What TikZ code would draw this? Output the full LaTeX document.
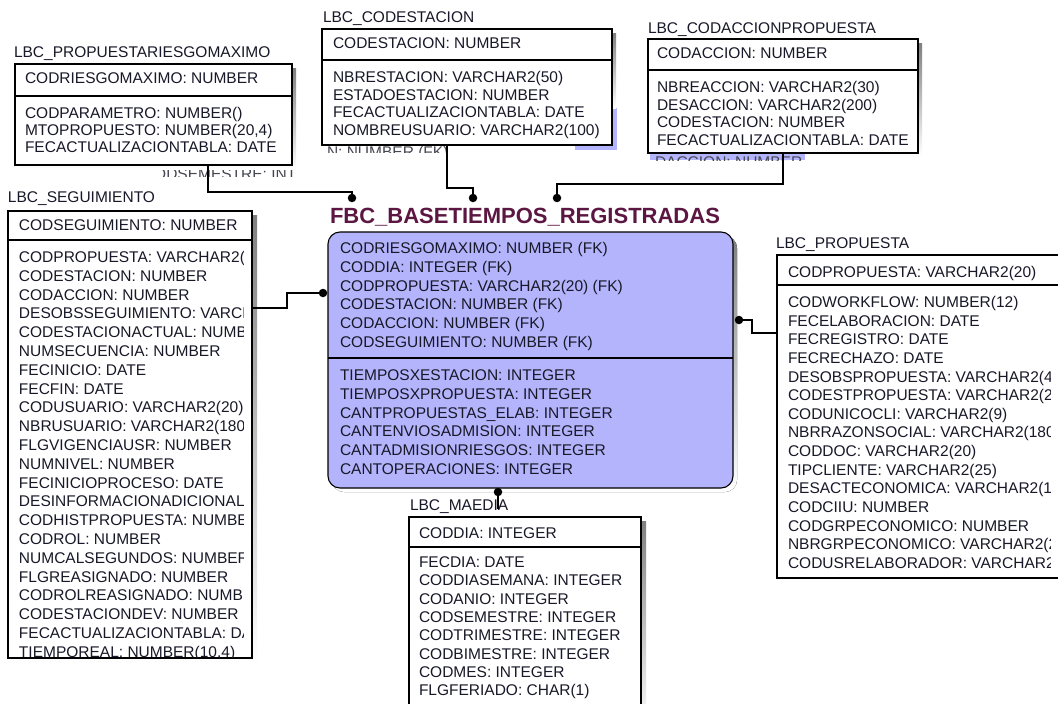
\documentclass[tikz,border=0pt]{standalone}
\usepackage{fontspec}
\setmainfont{Liberation Sans}
\usetikzlibrary{calc}
\definecolor{lav}{RGB}{180,180,252}
\definecolor{ink}{RGB}{24,24,40}
\definecolor{titlec}{RGB}{92,22,66}
\definecolor{shade}{RGB}{115,115,115}
\begin{document}
\begin{tikzpicture}[x=1pt,y=-1pt,
  every node/.style={inner sep=0pt, outer sep=0pt},
  rowtxt/.style={anchor=base west, text=ink, font=\fontsize{15.5}{18}\selectfont},
  tabtitle/.style={anchor=base west, text=ink, font=\fontsize{15.5}{18}\selectfont},
  tbox/.style={draw=black, line width=1.1pt, fill=white, anchor=north west, rectangle},
  divline/.style={draw=black, line width=1.1pt},
  dotc/.style={circle, fill=black, minimum size=8.5pt},
  conn/.style={draw=black, line width=1.1pt},
  ghost/.style={anchor=base west, text=ink!80, font=\fontsize{15.5}{18}\selectfont}
]
\clip (0,0) rectangle (1058,704);
\fill[white] (0,0) rectangle (1058,704);

% ---------- ghost fragments ----------
\fill[lav] (575,108) rectangle (617,150);
\begin{scope}
  \clip (320,145) rectangle (450,152);
  \node[ghost] (gh1) at (327,157) {N: NUMBER (FK)};
\end{scope}
\begin{scope}
  \clip (162,166) rectangle (292,176);
  \node[ghost] (gh3) at (143,179) {CODSEMESTRE: INTEGER};
\end{scope}

% ---------- LBC_PROPUESTARIESGOMAXIMO ----------
\fill[shade] (19,68) rectangle (296,169);
\node[tbox, minimum width=277pt, minimum height=101pt] (A) at (15,64) {};
\draw[divline] (15,96) -- (292,96);
\node[tabtitle] (At) at (14,57.5) {LBC\_PROPUESTARIESGOMAXIMO};
\node[rowtxt] (Ak) at (25,83.5) {CODRIESGOMAXIMO: NUMBER};
\foreach \t [count=\i from 0] in {CODPARAMETRO: NUMBER(), {MTOPROPUESTO: NUMBER(20,4)}, FECACTUALIZACIONTABLA: DATE}
  \node[rowtxt] (A-\i) at (25,118.5+\i*17) {\t};

% ---------- LBC_CODESTACION ----------
\fill[shade] (326,33) rectangle (616,108);
\node[tbox, minimum width=290pt, minimum height=116pt] (B) at (322,29) {};
\draw[divline] (322,60) -- (612,60);
\node[tabtitle] (Bt) at (323,22.5) {LBC\_CODESTACION};
\node[rowtxt] (Bk) at (333,48.5) {CODESTACION: NUMBER};
\foreach \t [count=\i from 0] in {NBRESTACION: VARCHAR2(50), ESTADOESTACION: NUMBER, FECACTUALIZACIONTABLA: DATE, NOMBREUSUARIO: VARCHAR2(100)}
  \node[rowtxt] (B-\i) at (333,82.5+\i*17.7) {\t};

% ---------- LBC_CODACCIONPROPUESTA ----------
\fill[shade] (652,43) rectangle (922,157);
\fill[lav] (650,153) rectangle (805,160);
\node[tbox, minimum width=270pt, minimum height=114pt] (C) at (648,39) {};
\draw[divline] (648,70) -- (918,70);
\node[tabtitle] (Ct) at (648,33.5) {LBC\_CODACCIONPROPUESTA};
\node[rowtxt] (Ck) at (657,58.5) {CODACCION: NUMBER};
\foreach \t [count=\i from 0] in {NBREACCION: VARCHAR2(30), DESACCION: VARCHAR2(200), CODESTACION: NUMBER, FECACTUALIZACIONTABLA: DATE}
  \node[rowtxt] (C-\i) at (657,92.5+\i*17.7) {\t};
\begin{scope}
  \clip (650,153.6) rectangle (805,160);
  \node[ghost] (gh2) at (655,167) {DACCION: NUMBER (FK)};
\end{scope}

% ---------- LBC_SEGUIMIENTO ----------
\fill[shade] (12,215) rectangle (257,663);
\node[tbox, minimum width=244pt, minimum height=447pt] (D) at (8,211) {};
\draw[divline] (8,240) -- (252,240);
\node[tabtitle] (Dt) at (8,202.5) {LBC\_SEGUIMIENTO};
\begin{scope}
  \clip (9,212) rectangle (243,657);
  \node[rowtxt] (Dk) at (19,230.5) {CODSEGUIMIENTO: NUMBER};
  \foreach \t [count=\i from 0] in {CODPROPUESTA: VARCHAR2(20), CODESTACION: NUMBER, CODACCION: NUMBER,
     DESOBSSEGUIMIENTO: VARCHAR2(500), CODESTACIONACTUAL: NUMBER, NUMSECUENCIA: NUMBER,
     FECINICIO: DATE, FECFIN: DATE, CODUSUARIO: VARCHAR2(20), NBRUSUARIO: VARCHAR2(180),
     FLGVIGENCIAUSR: NUMBER, NUMNIVEL: NUMBER, FECINICIOPROCESO: DATE,
     DESINFORMACIONADICIONAL: VARCHAR2(500), CODHISTPROPUESTA: NUMBER, CODROL: NUMBER,
     NUMCALSEGUNDOS: NUMBER, FLGREASIGNADO: NUMBER, CODROLREASIGNADO: NUMBER,
     CODESTACIONDEV: NUMBER, FECACTUALIZACIONTABLA: DATE, {TIEMPOREAL: NUMBER(10,4)}}
    \node[rowtxt] (D-\i) at (19,262.5+\i*18.8) {\t};
\end{scope}

% ---------- LBC_PROPUESTA ----------
\fill[shade] (781,259) rectangle (1064,583);
\node[tbox, minimum width=283pt, minimum height=323pt] (E) at (777,255) {};
\draw[divline] (777,285) -- (1060,285);
\node[tabtitle] (Et) at (776,248.5) {LBC\_PROPUESTA};
\begin{scope}
  \clip (778,256) rectangle (1050,577);
  \node[rowtxt] (Ek) at (788,277.5) {CODPROPUESTA: VARCHAR2(20)};
  \foreach \t [count=\i from 0] in {CODWORKFLOW: NUMBER(12), FECELABORACION: DATE, FECREGISTRO: DATE,
     FECRECHAZO: DATE, DESOBSPROPUESTA: VARCHAR2(400), CODESTPROPUESTA: VARCHAR2(20),
     CODUNICOCLI: VARCHAR2(9), NBRRAZONSOCIAL: VARCHAR2(180), CODDOC: VARCHAR2(20),
     TIPCLIENTE: VARCHAR2(25), DESACTECONOMICA: VARCHAR2(150), CODCIIU: NUMBER,
     CODGRPECONOMICO: NUMBER, NBRGRPECONOMICO: VARCHAR2(200), CODUSRELABORADOR: VARCHAR2(20)}
    \node[rowtxt] (E-\i) at (788,307.5+\i*18.64) {\t};
\end{scope}

% ---------- LBC_MAEDIA ----------
\fill[shade] (413,521) rectangle (646,730);
\node[tbox, minimum width=232pt, minimum height=210pt] (F) at (409,517) {};
\draw[divline] (409,547) -- (641,547);
\node[tabtitle] (Ft) at (410,510.5) {LBC\_MAEDIA};
\node[rowtxt] (Fk) at (419,538.5) {CODDIA: INTEGER};
\foreach \t [count=\i from 0] in {FECDIA: DATE, CODDIASEMANA: INTEGER, CODANIO: INTEGER, CODSEMESTRE: INTEGER,
   CODTRIMESTRE: INTEGER, CODBIMESTRE: INTEGER, CODMES: INTEGER, FLGFERIADO: CHAR(1)}
  \node[rowtxt] (F-\i) at (419,567.5+\i*18.3) {\t};

% ---------- FBC_BASETIEMPOS_REGISTRADAS ----------
\fill[shade, rounded corners=12pt] (332,236) rectangle (737,492);
\node[draw=black, line width=1.1pt, fill=lav, rounded corners=12pt, anchor=north west,
      minimum width=405pt, minimum height=256pt] (G) at (328,232) {};
\draw[divline] (328,358) -- (733,358);
\node[anchor=base west, text=titlec, font=\fontsize{22}{24}\selectfont\bfseries] (Gt) at (330,223.5) {FBC\_BASETIEMPOS\_REGISTRADAS};
\foreach \t [count=\i from 0] in {CODRIESGOMAXIMO: NUMBER (FK), CODDIA: INTEGER (FK), CODPROPUESTA: VARCHAR2(20) (FK),
   CODESTACION: NUMBER (FK), CODACCION: NUMBER (FK), CODSEGUIMIENTO: NUMBER (FK)}
  \node[rowtxt] (Gk-\i) at (340,253.5+\i*18.8) {\t};
\foreach \t [count=\i from 0] in {TIEMPOSXESTACION: INTEGER, TIEMPOSXPROPUESTA: INTEGER, CANTPROPUESTAS\_ELAB: INTEGER,
   CANTENVIOSADMISION: INTEGER, CANTADMISIONRIESGOS: INTEGER, CANTOPERACIONES: INTEGER}
  \node[rowtxt] (Ga-\i) at (340,380.5+\i*18.8) {\t};

% ---------- connectors ----------
\node[dotc] (d1) at (352,198) {};
\node[dotc] (d2) at (473,198) {};
\node[dotc] (d3) at (557,198) {};
\node[dotc] (d4) at (323,293) {};
\node[dotc] (d5) at (739,320) {};
\node[dotc] (d6) at (498,492) {};
\coordinate (a1) at (208,165);
\coordinate (b1) at (447,145);
\coordinate (c1) at (783,153);
\coordinate (s1) at (252,308);
\coordinate (e1) at (777,333);
\coordinate (f1) at (498,509);
\draw[conn] (a1) |- ($(d1)+(0,-6)$) -- (d1);
\draw[conn] (b1) |- ($(d2)+(0,-10)$) -- (d2);
\draw[conn] (c1) |- ($(d3)+(0,-14)$) -- (d3);
\draw[conn] (s1) -| ($(d4)+(-36,0)$) |- (d4);
\draw[conn] (d5) -| ($(e1)+(-25,0)$) |- (e1);
\draw[conn] (d6) -- (f1);
\end{tikzpicture}
\end{document}
